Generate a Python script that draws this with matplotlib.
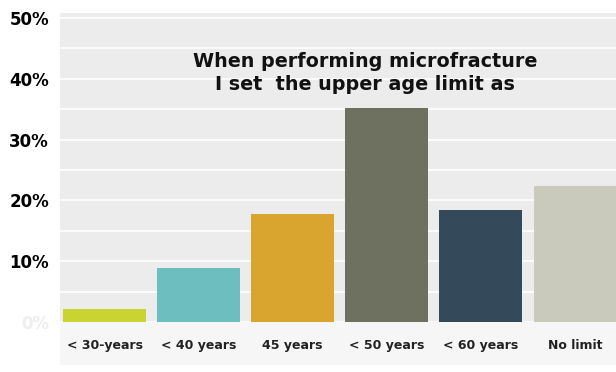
import matplotlib
matplotlib.use("Agg")
import matplotlib.pyplot as plt
from matplotlib.patches import Rectangle

categories = ["< 30-years", "< 40 years", "45 years", "< 50 years", "< 60 years", "No limit"]
values = [2.1, 8.9, 17.8, 35.2, 18.4, 22.4]
colors = ["#c9d432", "#6dbfbf", "#d9a52e", "#6e7060", "#344a5a", "#c9c9bc"]
ytick_vals = [0, 10, 20, 30, 40, 50]
ytick_labels = ["0%", "10%", "20%", "30%", "40%", "50%"]
title_lines = "When performing microfracture\nI set  the upper age limit as"

fig = plt.figure(figsize=(6.16, 3.72), dpi=100)
fig.patch.set_facecolor("white")
ax = fig.add_axes([60/616, 1-322/372, 1-60/616, (322-13)/372])
# light band under the plot area
band = Rectangle((60/616, 1-365/372), 1-60/616, (365-322)/372,
                 transform=fig.transFigure, facecolor="#f6f6f6",
                 edgecolor="none", zorder=-5)
fig.patches.append(band)
ax.set_facecolor("#ececec")
x = list(range(len(categories)))
ax.bar(x, values, width=0.88, color=colors, zorder=3)
ax.set_xlim(-0.473, 5.436)
ax.set_ylim(0, 50.8)
ax.set_yticks(ytick_vals)
ax.set_yticks([5, 15, 25, 35, 45], minor=True)
ax.yaxis.grid(True, which="both", color="white", linewidth=1.2, zorder=1)
ax.set_yticklabels(ytick_labels, fontsize=12, fontweight="bold", family="DejaVu Sans")
ax.get_yticklabels()[0].set_color("#eeeeee")
ax.set_xticks(x)
ax.set_xticklabels(categories, fontsize=9, fontweight="bold", color="#222222", family="DejaVu Sans")
ax.tick_params(axis="both", which="both", length=0)
ax.tick_params(axis="x", pad=12)
ax.tick_params(axis="y", pad=8)
for s in ax.spines.values():
    s.set_visible(False)
ax.set_axisbelow(True)
ax.text(0.549, 0.806, title_lines, transform=ax.transAxes, ha="center", va="center",
        fontsize=13.8, fontweight="bold", family="DejaVu Sans", color="#111111",
        linespacing=1.25, zorder=5)
fig.savefig("out.png", dpi=100)
